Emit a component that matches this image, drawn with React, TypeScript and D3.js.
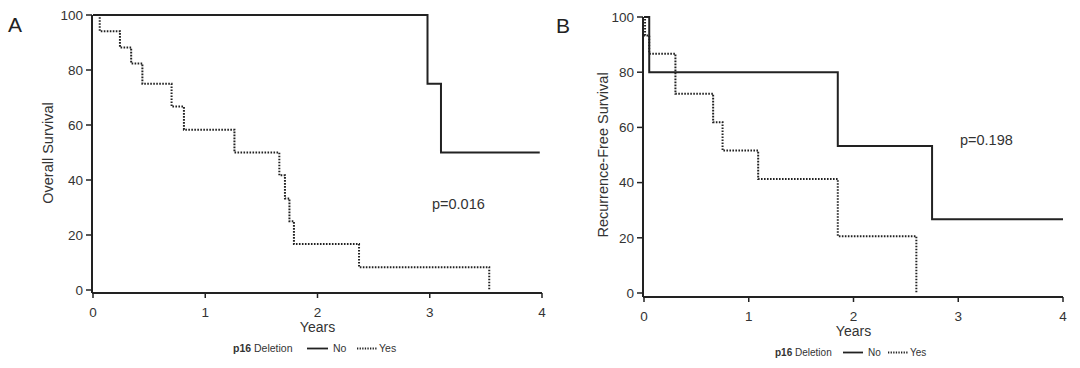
import React from "react";
import * as d3 from "d3";

// ---- data ----
const yearTicks = [0, 1, 2, 3, 4];
const survTicks = [0, 20, 40, 60, 80, 100];

// Panel A: Overall survival (time in years, survival %)
const osNoTimes = [0, 2.98, 3.1, 3.98];
const osNoSurv = [100, 75, 50, 50];
const osYesTimes = [0, 0.06, 0.24, 0.34, 0.44, 0.7, 0.81, 1.26, 1.66, 1.71, 1.75, 1.79, 2.37, 3.53];
const osYesSurv = [100, 94.1, 88.2, 82.4, 75, 66.7, 58.3, 50, 41.7, 33.3, 25, 16.7, 8.3, 0];

// Panel B: Recurrence-free survival
const rfsNoTimes = [0, 0.05, 1.85, 2.75, 4.0];
const rfsNoSurv = [100, 80, 53.3, 26.7, 26.7];
const rfsYesTimes = [0, 0.01, 0.05, 0.3, 0.66, 0.75, 1.09, 1.85, 2.6];
const rfsYesSurv = [100, 93.3, 86.7, 72.2, 61.9, 51.6, 41.3, 20.6, 0];

const legendLabels = ["No", "Yes"];

const panels = [
  {
    letter: "A",
    yTitle: "Overall Survival",
    pValue: "p=0.016",
    noT: osNoTimes, noS: osNoSurv, yesT: osYesTimes, yesS: osYesSurv,
    x0: 93, x1: 542, y0: 290, y1: 15, axisX: 92, axisY: 293,
    letterX: 8, letterY: 32, yTitleX: 53, yTitleY: 153,
    pX: 432, pY: 209, legendX: 233, legendY: 352, legendFont: 10.5,
    lg: [74, 95, 100, 124, 144, 146],
  },
  {
    letter: "B",
    yTitle: "Recurrence-Free Survival",
    pValue: "p=0.198",
    noT: rfsNoTimes, noS: rfsNoSurv, yesT: rfsYesTimes, yesS: rfsYesSurv,
    x0: 644, x1: 1063, y0: 293, y1: 17, axisX: 643, axisY: 297,
    letterX: 556, letterY: 33, yTitleX: 608, yTitleY: 155,
    pX: 960, pY: 145, legendX: 775, legendY: 356, legendFont: 10,
    lg: [68, 88, 93, 113, 133, 135],
  },
];

const FONT = "'Liberation Sans', Arial, Helvetica, sans-serif";
const INK = "#222";
const TXT = "#333";

function Panel({ p }: { p: any }) {
  const x = d3.scaleLinear().domain([0, 4]).range([p.x0, p.x1]);
  const y = d3.scaleLinear().domain([0, 100]).range([p.y0, p.y1]);
  const line = d3
    .line<[number, number]>()
    .x((d) => x(d[0]))
    .y((d) => y(d[1]))
    .curve(d3.curveStepAfter);
  const noPts = p.noT.map((t: number, i: number) => [t, p.noS[i]] as [number, number]);
  const yesPts = p.yesT.map((t: number, i: number) => [t, p.yesS[i]] as [number, number]);
  const lx = p.legendX;
  const ly = p.legendY;
  const lg = p.lg;
  return (
    <g fontFamily={FONT}>
      <text x={p.letterX} y={p.letterY} fontSize={21} fill={INK}>{p.letter}</text>
      {/* y axis */}
      <line x1={p.axisX} x2={p.axisX} y1={y(100)} y2={p.axisY} stroke={INK} strokeWidth={2} />
      {survTicks.map((v) => (
        <g key={"y" + v}>
          <line x1={p.axisX - 6} x2={p.axisX} y1={y(v)} y2={y(v)} stroke={INK} strokeWidth={1.5} />
          <text x={p.axisX - 9} y={y(v)} dy="0.36em" textAnchor="end" fontSize={13.5} fill={TXT}>{v}</text>
        </g>
      ))}
      {/* x axis */}
      <line x1={p.axisX} x2={x(4)} y1={p.axisY} y2={p.axisY} stroke={INK} strokeWidth={2} />
      {yearTicks.map((v) => (
        <g key={"x" + v}>
          <line x1={x(v)} x2={x(v)} y1={p.axisY} y2={p.axisY + 5} stroke={INK} strokeWidth={1.5} />
          <text x={x(v)} y={p.axisY + 24} textAnchor="middle" fontSize={13.5} fill={TXT}>{v}</text>
        </g>
      ))}
      <text x={x(2)} y={p.axisY + 39} textAnchor="middle" fontSize={14} fill={TXT}>Years</text>
      <text
        transform={`translate(${p.yTitleX},${p.yTitleY}) rotate(-90)`}
        textAnchor="middle"
        fontSize={14.5}
        fill={TXT}
      >
        {p.yTitle}
      </text>
      {/* curves */}
      <path d={line(noPts) || ""} fill="none" stroke={INK} strokeWidth={2} />
      <path d={line(yesPts) || ""} fill="none" stroke={INK} strokeWidth={2} strokeDasharray="1.6,1.4" />
      <text x={p.pX} y={p.pY} fontSize={14.5} fill={TXT}>{p.pValue}</text>
      {/* legend */}
      <text x={lx} y={ly} fontSize={p.legendFont} fill={TXT}>
        <tspan fontWeight="bold">p16</tspan> Deletion
      </text>
      <line x1={lx + lg[0]} x2={lx + lg[1]} y1={ly - 3.5} y2={ly - 3.5} stroke={INK} strokeWidth={1.8} />
      <text x={lx + lg[2]} y={ly} fontSize={p.legendFont} fill={TXT}>{legendLabels[0]}</text>
      <line x1={lx + lg[3]} x2={lx + lg[4]} y1={ly - 3.5} y2={ly - 3.5} stroke={INK} strokeWidth={1.8} strokeDasharray="1.3,1.3" />
      <text x={lx + lg[5]} y={ly} fontSize={p.legendFont} fill={TXT}>{legendLabels[1]}</text>
    </g>
  );
}

export default function App() {
  return (
    <svg
      width={1080}
      height={368}
      style={{ position: "absolute", left: 0, top: 0, background: "#fff" }}
    >
      <rect width={1080} height={368} fill="#fff" />
      {panels.map((p) => (
        <Panel key={p.letter} p={p} />
      ))}
    </svg>
  );
}
